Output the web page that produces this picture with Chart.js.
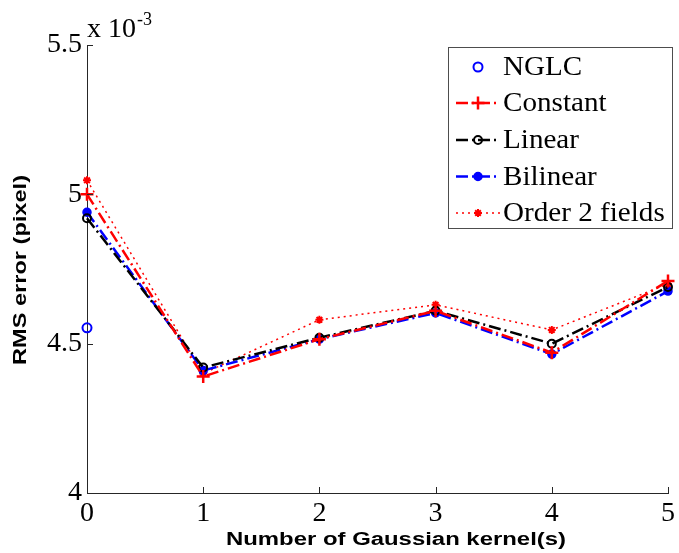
<!DOCTYPE html>
<html><head><meta charset="utf-8">
<script src="https://cdn.jsdelivr.net/npm/chart.js@4"></script>
<style>html,body{margin:0;padding:0;background:#fff}#wrap{width:679px;height:553px}</style>
</head><body><div id="wrap"><canvas id="c" width="679" height="553"></canvas></div>
<script>
const kernels = [0, 1, 2, 3, 4, 5];
const nglc = [4.553];
const constant = [5.00, 4.39, 4.515, 4.61, 4.47, 4.71];
const linear = [4.92, 4.42, 4.52, 4.61, 4.50, 4.69];
const bilinear = [4.94, 4.41, 4.515, 4.603, 4.465, 4.676];
const order2 = [5.047, 4.40, 4.58, 4.63, 4.546, 4.70];
const yTicks = [4, 4.5, 5, 5.5];
const seriesNames = ['NGLC', 'Constant', 'Linear', 'Bilinear', 'Order 2 fields'];
const xTitle = 'Number of Gaussian kernel(s)';
const yTitle = 'RMS error (pixel)';

const pts = arr => arr.map((v, i) => ({x: kernels[i], y: v}));
const DASHDOT = [12, 4, 2, 4];
const DOT = [2, 4];

const datasets = [
  {label: seriesNames[0], data: pts(nglc), showLine: false, borderColor: '#0000ff', backgroundColor: 'rgba(0,0,0,0)', pointStyle: 'circle', pointRadius: 4.5, pointBorderWidth: 2},
  {label: seriesNames[1], data: pts(constant), borderColor: '#ff0000', backgroundColor: '#ff0000', borderDash: DASHDOT, borderWidth: 2.5, pointStyle: 'cross', pointRadius: 6.5, pointBorderWidth: 2.5},
  {label: seriesNames[2], data: pts(linear), borderColor: '#000000', backgroundColor: 'rgba(0,0,0,0)', borderDash: DASHDOT, borderWidth: 2.5, pointStyle: 'circle', pointRadius: 4, pointBorderWidth: 2},
  {label: seriesNames[3], data: pts(bilinear), borderColor: '#0000ff', backgroundColor: '#0000ff', borderDash: DASHDOT, borderWidth: 2.5, pointStyle: 'circle', pointRadius: 4, pointBorderWidth: 1.5},
  {label: seriesNames[4], data: pts(order2), borderColor: '#ff0000', backgroundColor: '#ff0000', borderDash: DOT, borderWidth: 1.5, pointStyle: 'star', pointRadius: 4, pointBorderWidth: 2}
];
datasets.forEach(d => { d.tension = 0; d.clip = false; d.pointHoverRadius = d.pointRadius; });

const AXIS = '#262626';
function stretchedText(ctx, text, cx, cy, targetW, rot) {
  ctx.save();
  ctx.font = 'bold 18px "Liberation Sans"';
  const w = ctx.measureText(text).width;
  ctx.translate(cx, cy);
  ctx.rotate(rot);
  ctx.scale(targetW / w, 1);
  ctx.textAlign = 'center'; ctx.textBaseline = 'middle'; ctx.fillStyle = '#000';
  ctx.fillText(text, 0, 0);
  ctx.restore();
}
const extras = {
  id: 'extras',
  afterDraw(chart) {
    const ctx = chart.ctx, xs = chart.scales.x, ys = chart.scales.y;
    const L = chart.chartArea.left, B = chart.chartArea.bottom;
    ctx.save();
    ctx.strokeStyle = AXIS; ctx.lineWidth = 1;
    ctx.beginPath();
    kernels.forEach(k => { const px = Math.round(xs.getPixelForValue(k)) + 0.5; ctx.moveTo(px, B); ctx.lineTo(px, B - 6); });
    yTicks.forEach(t => { const py = Math.round(ys.getPixelForValue(t)) + 0.5; ctx.moveTo(L, py); ctx.lineTo(L + 6, py); });
    ctx.stroke();
    // axis titles
    stretchedText(ctx, xTitle, 396, 540, 340, 0);
    stretchedText(ctx, yTitle, 21, 270, 190, -Math.PI / 2);
    // exponent label
    ctx.fillStyle = '#000';
    ctx.textBaseline = 'alphabetic'; ctx.textAlign = 'left';
    ctx.font = '28px "Liberation Serif"';
    ctx.fillText('x 10', L, 37);
    const w = ctx.measureText('x 10').width;
    ctx.font = '18px "Liberation Serif"';
    ctx.fillText('-3', L + w + 1, 25);
    // legend
    const bx = 448, by = 47, bw = 224, bh = 181;
    ctx.fillStyle = '#fff'; ctx.fillRect(bx, by, bw, bh);
    ctx.strokeStyle = '#4d4d4d'; ctx.lineWidth = 1;
    ctx.strokeRect(bx + 0.5, by + 0.5, bw, bh);
    const rows = [67, 103, 140, 176.5, 213];
    chart.data.datasets.forEach((d, i) => {
      const y = rows[i];
      if (d.showLine !== false) {
        ctx.save();
        ctx.strokeStyle = d.borderColor; ctx.lineWidth = d.borderWidth; ctx.setLineDash(d.borderDash || []);
        ctx.beginPath(); ctx.moveTo(456, y); ctx.lineTo(500, y); ctx.stroke();
        ctx.restore();
      }
      ctx.save();
      ctx.strokeStyle = d.borderColor; ctx.fillStyle = d.backgroundColor; ctx.lineWidth = d.pointBorderWidth;
      Chart.helpers.drawPoint(ctx, {pointStyle: d.pointStyle, radius: d.pointRadius, borderWidth: d.pointBorderWidth, rotation: 0}, 478, y);
      ctx.restore();
      ctx.save();
      ctx.fillStyle = '#000'; ctx.font = '28px "Liberation Serif"'; ctx.textBaseline = 'middle'; ctx.textAlign = 'left';
      ctx.translate(503, y + 1); ctx.scale(1.04, 1);
      ctx.fillText(d.label, 0, 0);
      ctx.restore();
    });
    ctx.restore();
  }
};

new Chart(document.getElementById('c'), {
  type: 'line',
  data: {datasets},
  options: {
    responsive: false, animation: false, devicePixelRatio: 1,
    layout: {padding: {left: 0, top: 45, right: 6, bottom: 0}},
    plugins: {legend: {display: false}, tooltip: {enabled: false}},
    scales: {
      x: {
        type: 'linear', min: 0, max: 5,
        afterFit: s => { s.height = 60; },
        afterBuildTicks: s => { s.ticks = kernels.map(v => ({value: v})); },
        grid: {display: false, drawTicks: false},
        border: {display: true, color: AXIS, width: 1},
        ticks: {color: '#000', font: {family: 'Liberation Serif', size: 28}, padding: 4, maxRotation: 0, callback: v => String(v)},
        title: {display: false}
      },
      y: {
        type: 'linear', min: 4, max: 5.5,
        afterFit: s => { s.width = 87; },
        afterBuildTicks: s => { s.ticks = yTicks.map(v => ({value: v})); },
        grid: {display: false, drawTicks: false},
        border: {display: true, color: AXIS, width: 1},
        ticks: {color: '#000', font: {family: 'Liberation Serif', size: 28}, padding: 5, callback: v => String(v)},
        title: {display: false}
      }
    }
  },
  plugins: [extras]
});
</script></body></html>
